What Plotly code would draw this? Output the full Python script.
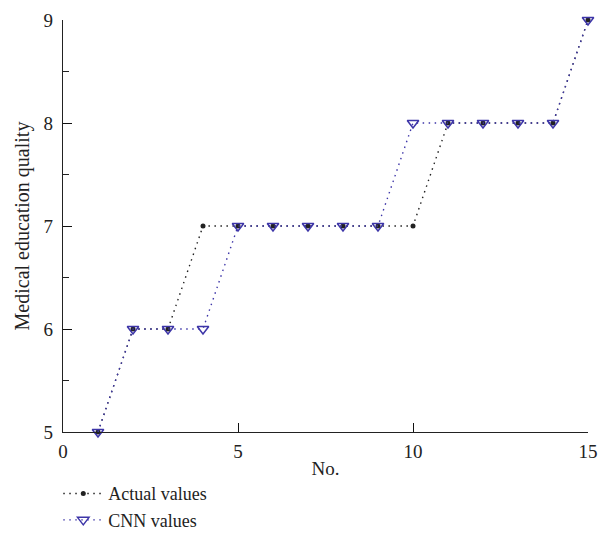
import plotly.graph_objects as go

x_no = list(range(1, 16))
actual_values = [5, 6, 6, 7, 7, 7, 7, 7, 7, 7, 8, 8, 8, 8, 9]
cnn_values = [5, 6, 6, 6, 7, 7, 7, 7, 7, 8, 8, 8, 8, 8, 9]

x_ticks = [0, 5, 10, 15]
y_ticks = [5, 6, 7, 8, 9]

FONT = "Liberation Serif"
INK = "#222222"
BLUE = "#3d35a8"
DOTS = "1.5px,4.5px"

fig = go.Figure()
fig.add_trace(go.Scatter(
    x=x_no, y=actual_values, name="Actual values", mode="lines+markers",
    line=dict(color=INK, width=1.4, dash=DOTS),
    marker=dict(symbol="circle", size=5, color=INK),
))
fig.add_trace(go.Scatter(
    x=x_no, y=cnn_values, name="CNN values", mode="lines+markers",
    line=dict(color=BLUE, width=1.4, dash=DOTS),
    marker=dict(symbol="triangle-down-open", size=10, color=BLUE,
                line=dict(width=1.5, color=BLUE)),
))

# page body has an 8px margin, so the figure is offset by 8px
fig.update_layout(
    width=600, height=551,
    margin=dict(l=55, r=20, t=12, b=127, autoexpand=False),
    paper_bgcolor="white", plot_bgcolor="white",
    font=dict(family=FONT, size=18, color=INK),
    showlegend=True,
    legend=dict(x=-0.009, y=-0.105, xanchor="left", yanchor="top",
                font=dict(family=FONT, size=18), tracegroupgap=0,
                itemwidth=40, bgcolor="rgba(0,0,0,0)"),
    xaxis=dict(
        range=[x_ticks[0], x_ticks[-1]], tickmode="array",
        tickvals=x_ticks, ticktext=[str(v) for v in x_ticks],
        ticks="inside", ticklen=9, tickwidth=1.4, tickcolor="#111111",
        tickfont=dict(family=FONT, size=19), ticklabelstandoff=2,
        showline=True, linecolor=INK, linewidth=1.3,
        showgrid=False, zeroline=False, automargin=False,
        title=dict(text="No.", font=dict(family=FONT, size=19), standoff=0),
    ),
    yaxis=dict(
        range=[y_ticks[0], y_ticks[-1]], tickmode="array",
        tickvals=y_ticks, ticktext=[str(v) for v in y_ticks],
        ticks="inside", ticklen=9, tickwidth=1.4, tickcolor="#111111",
        tickfont=dict(family=FONT, size=19), ticklabelstandoff=5,
        minor=dict(dtick=0.5, ticks="inside", ticklen=6, tickwidth=1.3, tickcolor=INK, showgrid=False),
        showline=True, linecolor=INK, linewidth=1.3,
        showgrid=False, zeroline=False, automargin=False,
        title=dict(text="Medical education quality", font=dict(family=FONT, size=20), standoff=8),
    ),
)
fig.update_traces(cliponaxis=False)

fig.write_html("out.html")
